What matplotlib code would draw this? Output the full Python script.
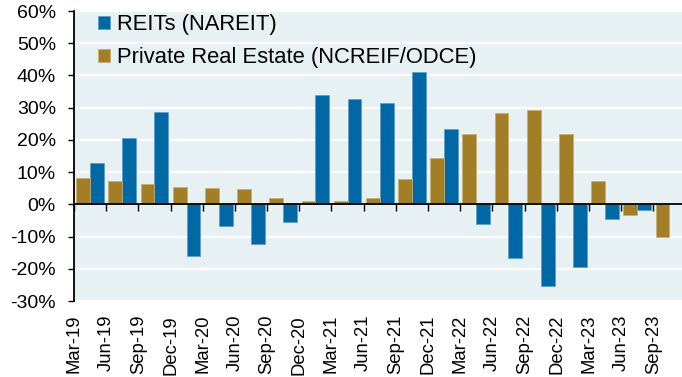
import numpy as np
import matplotlib
matplotlib.use("Agg")
import matplotlib.pyplot as plt
from matplotlib.ticker import FuncFormatter

plt.rcParams['font.family'] = ['Liberation Sans', 'DejaVu Sans']

# Rolling 1-year returns, %, by quarter
quarters = ['Mar-19', 'Jun-19', 'Sep-19', 'Dec-19', 'Mar-20', 'Jun-20', 'Sep-20',
            'Dec-20', 'Mar-21', 'Jun-21', 'Sep-21', 'Dec-21', 'Mar-22', 'Jun-22',
            'Sep-22', 'Dec-22', 'Mar-23', 'Jun-23', 'Sep-23']
reits = [12.7, 20.5, 28.5, -16.1, -6.7, -12.3, -5.4, 33.9, 32.6, 31.3,
         41.2, 23.5, -6.0, -16.5, -25.3, -19.6, -4.6, -1.9, np.nan]
private_re = [8.1, 7.2, 6.2, 5.3, 5.1, 4.7, 2.0, 1.1, 0.9, 2.1,
              7.8, 14.5, 21.9, 28.2, 29.4, 21.9, 7.2, -3.2, -10.1]

blue = '#0068A4'
gold = '#A27F27'
bg = '#E7F0F3'

fig = plt.figure(figsize=(6.82, 3.77), dpi=100)
ax = fig.add_axes([74 / 682, 1 - 301 / 377, 611.5 / 682, 290 / 377])
ax.set_facecolor(bg)

x = np.arange(len(quarters))
w = 0.43
ax.bar(x + 0.5 + w / 2, reits, width=w, color=blue, edgecolor='#5E9CC4',
       linewidth=0.5, label='REITs (NAREIT)', zorder=2)
ax.bar(x + 0.5 - w / 2, private_re, width=w, color=gold, edgecolor='#C8AD6A',
       linewidth=0.5, label='Private Real Estate (NCREIF/ODCE)', zorder=2)

ax.set_xlim(0, len(quarters))
ax.set_ylim(-30, 60)

# y axis
ax.set_yticks(range(-30, 61, 10))
ax.yaxis.set_major_formatter(FuncFormatter(lambda v, _: f'{v:.0f}%'))
ax.tick_params(axis='y', direction='out', length=4.5, width=1, pad=8.5,
               labelsize=14, colors='black')
ax.yaxis.grid(True, color='white', linewidth=1.6)
ax.set_axisbelow(True)

# x axis: labels below the plot, tick marks on the zero line
ax.set_xticks(x)
ax.set_xticklabels(quarters, rotation=90)
ax.tick_params(axis='x', length=0, pad=10, labelsize=13.3)
ax.axhline(0, color='black', linewidth=1.3, zorder=3)
ax.vlines(x, -2.0, 0, color='black', linewidth=1, zorder=3)

for side in ['top', 'right', 'bottom']:
    ax.spines[side].set_visible(False)
ax.spines['left'].set_linewidth(1.3)

ax.legend(loc='upper left', bbox_to_anchor=(98 / 682, 1 - 14 / 377),
          bbox_transform=fig.transFigure, frameon=False, fontsize=15.8,
          handlelength=0.55, handleheight=0.55, handletextpad=0.3,
          labelspacing=0.55, borderpad=0, borderaxespad=0)

fig.savefig('out.png', dpi=100)
